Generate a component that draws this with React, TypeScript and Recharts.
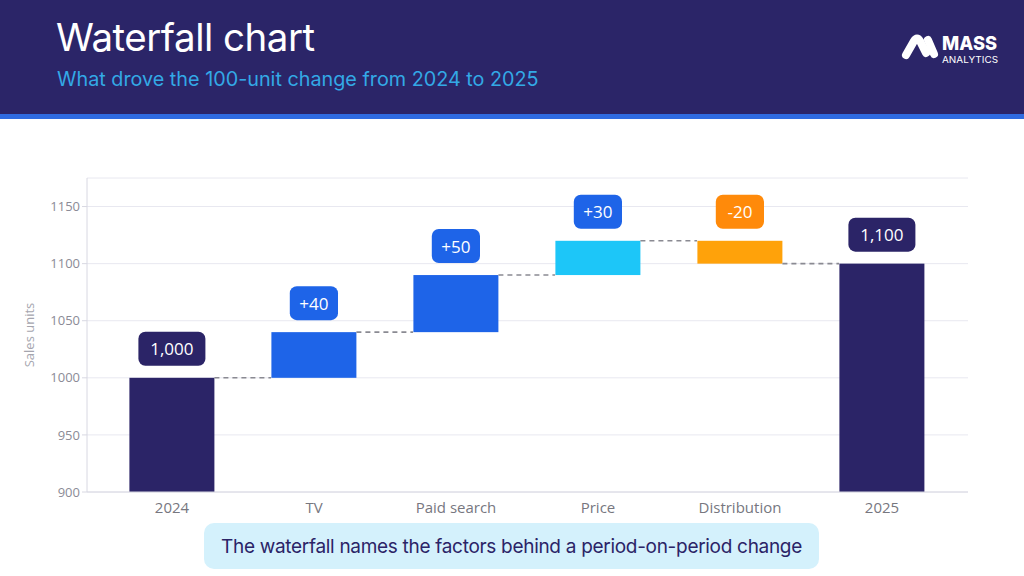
import React from 'react';
import { BarChart, Bar, XAxis, YAxis, CartesianGrid } from 'recharts';

const categories = ['2024', 'TV', 'Paid search', 'Price', 'Distribution', '2025'];
const values = [1000, 40, 50, 30, -20, 1100];
const kinds = ['total', 'delta', 'delta', 'delta', 'delta', 'total'];
const barColors = ['#2B2467', '#1E64E8', '#1E64E8', '#1DC6F8', '#FFA20A', '#2B2467'];
const labelColors = ['#2B2467', '#1E64E8', '#1E64E8', '#1E64E8', '#FF8A0A', '#2B2467'];
const yTicks = [900, 950, 1000, 1050, 1100, 1150];
const yDomain = [900, 1175];

const FONT = '"Open Sans", "Noto Sans", sans-serif';
const HFONT = 'Inter, "Open Sans", sans-serif';

type Row = { name: string; range: [number, number]; value: number; kind: string; end: number; label: string };

const rows: Row[] = (() => {
  let running = 0;
  return categories.map((name, i) => {
    const v = values[i];
    if (kinds[i] === 'total') {
      running = v;
      return { name, range: [0, v] as [number, number], value: v, kind: 'total', end: v, label: v.toLocaleString('en-US') };
    }
    const start = running;
    const end = running + v;
    running = end;
    return {
      name,
      range: [Math.min(start, end), Math.max(start, end)] as [number, number],
      value: v,
      kind: 'delta',
      end,
      label: (v > 0 ? '+' : '') + v,
    };
  });
})();

const WaterfallShape = (props: any) => {
  const { x, y, width, height, index } = props;
  const row = rows[index];
  const gap = (width * 0.4) / 0.6;
  const connY = row.kind === 'delta' && row.value < 0 ? y + height : y;
  const text = row.label;
  const boxW = text.length * 9.4 + 20;
  const boxH = 34;
  const cx = x + width / 2;
  const boxBottom = y - 12;
  return (
    <g>
      <rect x={x} y={y} width={width} height={height} fill={barColors[index]} />
      {index < rows.length - 1 && (
        <line
          x1={x + width}
          x2={x + width + gap}
          y1={connY}
          y2={connY}
          stroke="#8a8a92"
          strokeWidth={1.6}
          strokeDasharray="5 4"
        />
      )}
      <rect x={cx - boxW / 2} y={boxBottom - boxH} width={boxW} height={boxH} rx={7} ry={7} fill={labelColors[index]} />
      <text
        x={cx}
        y={boxBottom - boxH / 2}
        textAnchor="middle"
        dominantBaseline="central"
        fill="#ffffff"
        fontSize={17}
        fontFamily={FONT}
      >
        {text}
      </text>
    </g>
  );
};

const Logo = () => (
  <svg width={120} height={46} style={{ position: 'absolute', left: 893, top: 26 }}>
    <path d="M 13 29 L 21 15 Q 24 10 27 15 L 33 27" stroke="#fff" strokeWidth={8} strokeLinecap="round" fill="none" />
    <line x1={35} y1={14} x2={41} y2={28} stroke="#fff" strokeWidth={8} strokeLinecap="round" />
    <text x={49} y={24} fill="#fff" fontSize={19} fontWeight={800} fontFamily={HFONT} textLength={55} lengthAdjust="spacingAndGlyphs">MASS</text>
    <text x={49} y={37} fill="#fff" fontSize={9.5} fontFamily={HFONT} textLength={56} lengthAdjust="spacingAndGlyphs">ANALYTICS</text>
  </svg>
);

export default function App() {
  return (
    <div style={{ position: 'absolute', left: 0, top: 0, width: 1024, height: 576, background: '#ffffff', overflow: 'hidden' }}>
      <div style={{ position: 'absolute', left: 0, top: 0, width: 1024, height: 114, background: '#2B2568' }} />
      <div style={{ position: 'absolute', left: 0, top: 114, width: 1024, height: 5, background: '#2F6BE0' }} />
      <div style={{ position: 'absolute', left: 56, top: 13, color: '#ffffff', fontFamily: HFONT, fontSize: 38.5, fontWeight: 400, lineHeight: '48px', letterSpacing: -0.5 }}>
        Waterfall chart
      </div>
      <div style={{ position: 'absolute', left: 57, top: 66, color: '#33A9E6', fontFamily: HFONT, fontSize: 19.8, lineHeight: '26px' }}>
        What drove the 100-unit change from 2024 to 2025
      </div>
      <Logo />
      <div style={{ position: 'absolute', left: 0, top: 0 }}>
        <BarChart
          width={1024}
          height={576}
          data={rows}
          margin={{ top: 178, right: 56, bottom: 54, left: 27 }}
          barCategoryGap="20%"
        >
          <CartesianGrid vertical={false} stroke="#e8e8f0" />
          <XAxis
            dataKey="name"
            height={30}
            padding={{ left: 14, right: 15 }}
            axisLine={{ stroke: '#d8d8e2' }}
            tickLine={false}
            tick={{ fill: '#77777f', fontSize: 15, fontFamily: FONT }}
            tickMargin={4}
          />
          <YAxis
            width={60}
            domain={yDomain}
            ticks={yTicks}
            allowDataOverflow
            axisLine={{ stroke: '#d8d8e2' }}
            tickLine={{ stroke: '#d8d8e2' }}
            tickSize={5}
            tick={{ fill: '#8b8b96', fontSize: 13, fontFamily: FONT }}
            label={{ value: 'Sales units', angle: -90, position: 'insideLeft', offset: 2, fill: '#a5a5ae', fontSize: 13, fontFamily: FONT, style: { textAnchor: 'middle' } }}
          />
          <Bar dataKey="range" isAnimationActive={false} shape={WaterfallShape} />
        </BarChart>
      </div>
      <div
        style={{
          position: 'absolute',
          left: 204,
          top: 523,
          width: 615,
          height: 46,
          background: '#D4F1FC',
          borderRadius: 10,
          color: '#2B2467',
          fontFamily: HFONT,
          fontSize: 19,
          display: 'flex',
          alignItems: 'center',
          justifyContent: 'center',
          letterSpacing: -0.3,
        }}
      >
        The waterfall names the factors behind a period-on-period change
      </div>
    </div>
  );
}
